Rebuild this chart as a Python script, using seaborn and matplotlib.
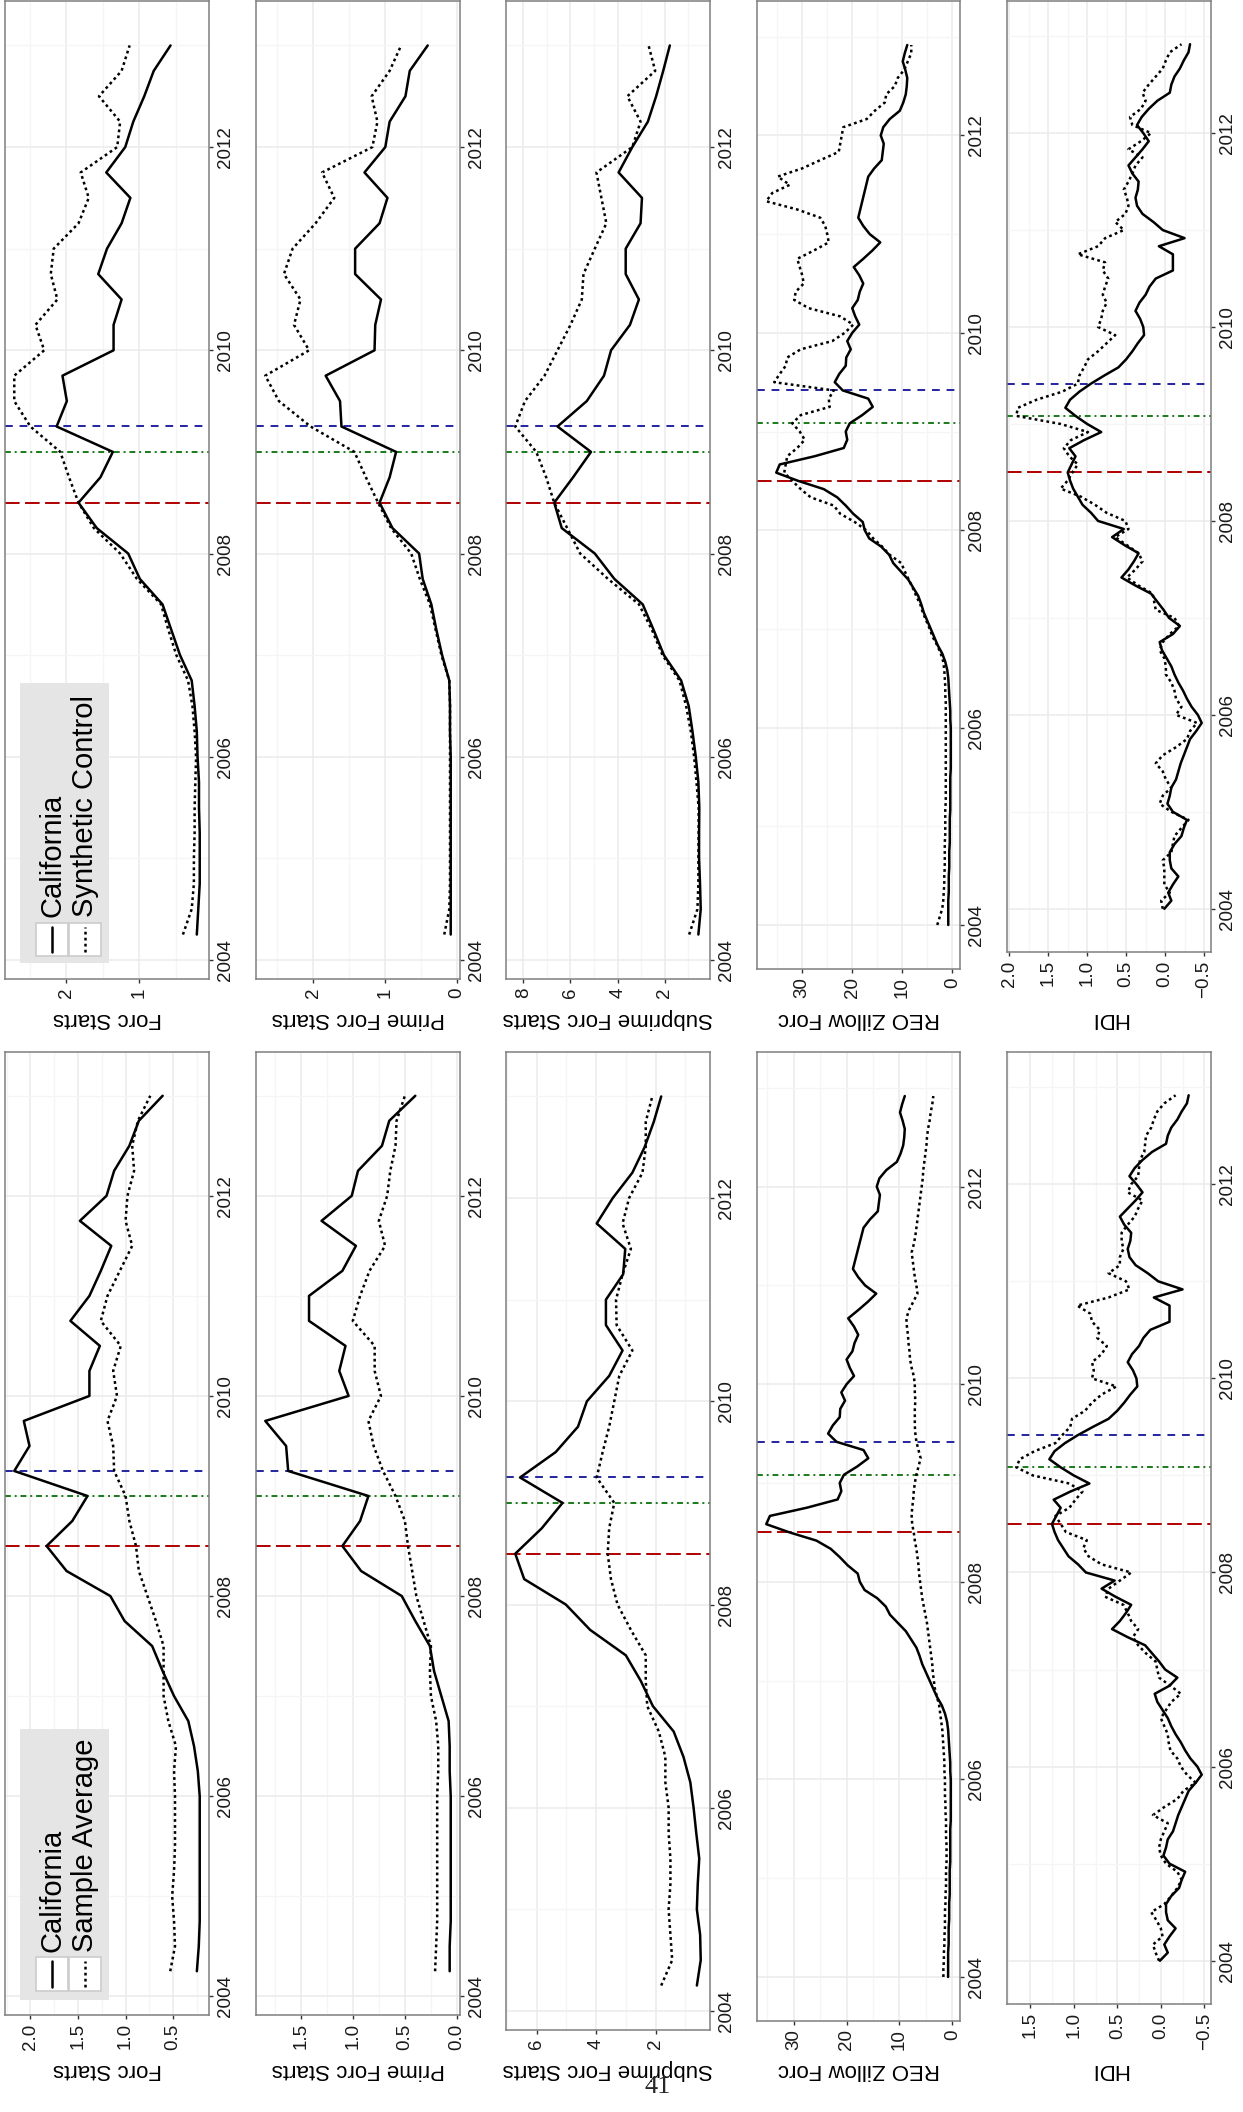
import numpy as np
import pandas as pd
import matplotlib
matplotlib.use("Agg")
import matplotlib.pyplot as plt
import seaborn as sns
from matplotlib.patches import Rectangle
from matplotlib.lines import Line2D
from matplotlib.ticker import AutoMinorLocator

W, H = 1243, 2112

# time axes: quarterly 2004Q1..2012Q4 (plotted at quarter end), monthly Jan 2004..Dec 2012
quarters = 2004 + np.arange(1, 37) / 4
months = 2004 + np.arange(108) / 12
q_events = [2008.5, 2009.0, 2009.25]
m_events = [2008.5, 2009 + 1 / 12, 2009 + 5 / 12]
year_ticks = [2004, 2006, 2008, 2010, 2012]
year_labels = ["2004", "2006", "2008", "2010", "2012"]

# ---- quarterly series ----
ca_forc_top = [0.21, 0.19, 0.17, 0.17, 0.17, 0.18, 0.18, 0.20,
               0.21, 0.24, 0.28, 0.44, 0.56, 0.68, 0.99, 1.15,
               1.58, 1.83, 1.53, 1.36, 2.13, 1.99, 2.05, 1.35,
               1.35, 1.24, 1.56, 1.44, 1.24, 1.12, 1.45, 1.19,
               1.08, 0.93, 0.80, 0.57]
synth_forc = [0.40, 0.28, 0.25, 0.25, 0.24, 0.24, 0.23, 0.22,
              0.24, 0.27, 0.33, 0.49, 0.60, 0.70, 1.03, 1.26,
              1.62, 1.83, 1.96, 2.08, 2.49, 2.71, 2.71, 2.30,
              2.42, 2.12, 2.21, 2.17, 1.83, 1.69, 1.80, 1.30,
              1.26, 1.55, 1.24, 1.13]
ca_forc_bot = [0.25, 0.23, 0.22, 0.22, 0.22, 0.22, 0.22, 0.22,
               0.24, 0.28, 0.34, 0.49, 0.61, 0.72, 1.01, 1.16,
               1.62, 1.83, 1.56, 1.40, 2.17, 2.01, 2.07, 1.38,
               1.38, 1.27, 1.58, 1.38, 1.26, 1.15, 1.48, 1.20,
               1.12, 0.96, 0.86, 0.61]
avg_forc = [0.53, 0.48, 0.49, 0.51, 0.49, 0.48, 0.48, 0.48,
            0.49, 0.47, 0.55, 0.60, 0.60, 0.60, 0.68, 0.77,
            0.86, 0.89, 0.96, 1.00, 1.12, 1.13, 1.19, 1.09,
            1.13, 1.05, 1.26, 1.19, 1.06, 0.93, 1.00, 0.98,
            0.91, 0.93, 0.87, 0.74]

ca_prime_top = [0.09, 0.09, 0.09, 0.09, 0.09, 0.09, 0.09, 0.09,
                0.10, 0.10, 0.11, 0.21, 0.29, 0.36, 0.48, 0.53,
                0.90, 1.08, 0.94, 0.85, 1.61, 1.63, 1.83, 1.15,
                1.14, 1.06, 1.42, 1.42, 1.08, 0.97, 1.29, 1.00,
                0.94, 0.72, 0.66, 0.41]
synth_prime = [0.18, 0.11, 0.10, 0.10, 0.10, 0.10, 0.10, 0.10,
               0.10, 0.10, 0.11, 0.22, 0.30, 0.38, 0.52, 0.64,
               0.92, 1.10, 1.27, 1.43, 2.04, 2.48, 2.67, 2.06,
               2.27, 2.18, 2.41, 2.29, 1.97, 1.71, 1.88, 1.18,
               1.11, 1.19, 0.94, 0.78]
ca_prime_bot = [0.07, 0.07, 0.06, 0.06, 0.06, 0.06, 0.06, 0.06,
                0.07, 0.07, 0.08, 0.15, 0.22, 0.26, 0.40, 0.53,
                0.92, 1.10, 0.93, 0.85, 1.62, 1.64, 1.84, 1.04,
                1.13, 1.07, 1.42, 1.42, 1.10, 0.97, 1.30, 1.01,
                0.95, 0.72, 0.65, 0.40]
avg_prime = [0.21, 0.20, 0.19, 0.19, 0.19, 0.19, 0.19, 0.19,
             0.18, 0.18, 0.20, 0.25, 0.26, 0.25, 0.32, 0.39,
             0.43, 0.47, 0.50, 0.59, 0.71, 0.80, 0.85, 0.73,
             0.79, 0.79, 1.00, 0.93, 0.84, 0.69, 0.75, 0.67,
             0.64, 0.59, 0.58, 0.50]

ca_sub_top = [0.58, 0.48, 0.51, 0.55, 0.55, 0.54, 0.58, 0.69,
              0.83, 0.99, 1.31, 2.04, 2.48, 2.94, 4.14, 4.97,
              6.37, 6.69, 5.89, 5.13, 6.55, 5.31, 4.58, 4.28,
              3.48, 3.10, 3.66, 3.66, 3.03, 2.97, 3.96, 3.38,
              2.72, 2.37, 2.07, 1.79]
synth_sub = [0.97, 0.62, 0.58, 0.58, 0.57, 0.57, 0.66, 0.76,
             0.90, 1.10, 1.38, 2.10, 2.55, 3.10, 4.41, 5.59,
             6.14, 6.69, 7.03, 7.45, 8.34, 7.93, 7.10, 6.55,
             6.00, 5.52, 5.45, 4.97, 4.48, 4.69, 4.90, 3.38,
             3.03, 3.59, 2.41, 2.69]
ca_sub_bot = [0.61, 0.48, 0.50, 0.61, 0.58, 0.53, 0.63, 0.72,
              0.83, 1.06, 1.39, 2.09, 2.50, 3.00, 4.20, 5.02,
              6.42, 6.72, 5.83, 5.13, 6.56, 5.36, 4.61, 4.31,
              3.56, 3.11, 3.67, 3.67, 3.09, 3.02, 3.98, 3.44,
              2.78, 2.37, 2.06, 1.81]
avg_sub = [1.81, 1.44, 1.50, 1.56, 1.50, 1.50, 1.56, 1.56,
           1.67, 1.67, 1.89, 2.28, 2.33, 2.33, 2.83, 3.28,
           3.50, 3.61, 3.56, 3.39, 3.98, 3.78, 3.56, 3.39,
           3.22, 2.78, 3.31, 3.33, 3.11, 2.83, 3.11, 2.89,
           2.44, 2.33, 2.33, 2.11]

# ---- monthly series ----
ca_reo = [0.8, 0.8, 0.8, 0.8, 0.7, 0.7, 0.7, 0.6, 0.6, 0.6, 0.5, 0.5,
          0.5, 0.5, 0.4, 0.4, 0.4, 0.4, 0.4, 0.3, 0.3, 0.3, 0.3, 0.3,
          0.3, 0.4, 0.4, 0.5, 0.6, 0.7, 0.8, 1.0, 1.4, 2.0, 2.9, 3.6,
          4.3, 5.0, 5.7, 6.2, 6.8, 7.8, 8.8, 10.3, 11.8, 12.6, 14.2, 16.6,
          17.5, 17.9, 19.8, 21.3, 23.0, 25.7, 30.8, 35.2, 34.5, 27.5, 21.7, 21.0,
          21.3, 20.5, 18.0, 15.9, 16.8, 21.9, 23.5, 22.6, 21.3, 21.2, 20.3, 21.0,
          20.0, 18.6, 19.4, 20.0, 18.9, 18.5, 17.8, 18.6, 19.7, 17.8, 16.0, 14.4,
          16.5, 17.8, 18.8, 18.4, 18.0, 17.6, 17.2, 16.8, 15.6, 14.1, 13.9, 13.7,
          14.3, 13.8, 12.5, 10.5, 9.8, 9.3, 9.1, 9.0, 9.4, 9.9, 9.5, 9.0]
synth_reo = [3.0, 2.5, 2.0, 1.8, 1.7, 1.6, 1.6, 1.5, 1.5, 1.5, 1.5, 1.4,
             1.4, 1.4, 1.4, 1.3, 1.3, 1.3, 1.3, 1.3, 1.3, 1.3, 1.3, 1.3,
             1.3, 1.3, 1.3, 1.3, 1.4, 1.4, 1.5, 1.6, 1.8, 2.3, 3.0, 3.9,
             4.5, 5.2, 5.9, 6.4, 7.2, 7.9, 8.7, 9.5, 10.2, 12.5, 14.0, 15.8,
             17.2, 19.5, 22.4, 23.7, 28.3, 30.3, 32.0, 33.6, 33.3, 33.0, 31.0, 29.5,
             30.5, 32.0, 30.3, 24.5, 24.7, 23.7, 35.6, 34.5, 33.3, 33.0, 30.3, 24.0,
             21.5, 19.8, 22.4, 28.7, 31.6, 31.3, 29.7, 30.0, 30.5, 31.0, 27.7, 24.7,
             25.0, 25.4, 26.4, 31.0, 37.2, 36.0, 32.5, 34.9, 30.0, 26.4, 22.7, 22.4,
             22.1, 21.8, 17.1, 15.5, 13.5, 13.2, 11.5, 10.9, 9.6, 8.9, 8.2, 8.2]
avg_reo = [1.7, 1.7, 1.6, 1.6, 1.5, 1.5, 1.4, 1.4, 1.4, 1.3, 1.3, 1.2,
           1.2, 1.2, 1.1, 1.1, 1.1, 1.2, 1.2, 1.2, 1.3, 1.3, 1.4, 1.4,
           1.4, 1.5, 1.5, 1.6, 1.7, 1.8, 1.9, 2.1, 2.3, 2.5, 2.9, 3.3,
           3.5, 3.7, 3.8, 4.0, 4.2, 4.4, 4.6, 4.8, 5.1, 5.4, 5.7, 5.9,
           6.1, 6.3, 6.4, 6.6, 6.8, 7.1, 7.3, 7.6, 7.7, 7.6, 7.4, 7.3,
           7.1, 6.8, 6.4, 6.0, 6.4, 6.8, 7.0, 7.1, 7.1, 7.1, 7.0, 7.1,
           7.1, 7.3, 7.7, 8.0, 8.1, 8.3, 8.4, 8.6, 8.7, 8.2, 7.4, 6.6,
           6.8, 7.1, 7.3, 7.5, 7.7, 7.3, 7.0, 6.8, 6.6, 6.4, 6.2, 6.0,
           5.8, 5.6, 5.5, 5.3, 5.1, 4.9, 4.8, 4.6, 4.3, 4.1, 3.8, 3.6]

ca_hdi = [0.01, -0.08, -0.04, -0.10, -0.17, -0.08, -0.06, -0.06, -0.12, -0.21, -0.24, -0.28,
          -0.10, -0.03, -0.06, -0.08, -0.14, -0.17, -0.20, -0.24, -0.28, -0.32, -0.40, -0.47,
          -0.42, -0.34, -0.28, -0.23, -0.17, -0.12, -0.08, -0.02, 0.04, 0.07, -0.10, -0.19,
          -0.05, 0.02, 0.10, 0.18, 0.38, 0.56, 0.47, 0.40, 0.34, 0.52, 0.68, 0.53,
          0.86, 0.95, 1.06, 1.12, 1.18, 1.22, 1.25, 1.20, 1.15, 1.23, 1.04, 0.82,
          1.00, 1.15, 1.28, 1.22, 1.10, 0.95, 0.78, 0.60, 0.50, 0.42, 0.35, 0.27,
          0.28, 0.32, 0.38, 0.33, 0.25, 0.20, 0.12, -0.10, -0.10, -0.10, 0.08, -0.25,
          0.03, 0.15, 0.29, 0.36, 0.38, 0.35, 0.34, 0.42, 0.47, 0.38, 0.29, 0.21,
          0.28, 0.36, 0.30, 0.21, 0.10, -0.06, -0.08, -0.12, -0.19, -0.24, -0.30, -0.32]
synth_hdi = [0.03, 0.05, -0.06, 0.01, 0.01, 0.01, 0.03, -0.08, -0.10, -0.12, -0.21, -0.30,
             -0.08, 0.07, 0.03, -0.08, -0.01, 0.03, 0.12, 0.03, -0.14, -0.28, -0.32, -0.41,
             -0.14, -0.21, -0.14, -0.12, -0.08, -0.01, -0.01, 0.01, 0.07, 0.03, -0.06, -0.18,
             -0.12, 0.12, 0.14, 0.16, 0.34, 0.49, 0.38, 0.29, 0.34, 0.49, 0.64, 0.47,
             0.51, 0.75, 0.90, 1.08, 1.34, 1.25, 1.19, 1.12, 1.23, 1.30, 1.21, 0.99,
             1.34, 1.91, 1.89, 1.65, 1.32, 1.12, 1.10, 1.04, 0.99, 0.86, 0.75, 0.64,
             0.86, 0.82, 0.80, 0.75, 0.80, 0.77, 0.73, 0.80, 0.77, 1.12, 0.86, 0.77,
             0.53, 0.64, 0.51, 0.47, 0.49, 0.53, 0.47, 0.42, 0.38, 0.29, 0.47, 0.31,
             0.18, 0.42, 0.45, 0.31, 0.25, 0.29, 0.21, 0.12, 0.03, -0.01, -0.06, -0.21]
avg_hdi = [0.02, 0.06, 0.09, -0.02, 0.00, 0.05, 0.11, -0.04, -0.12, -0.19, -0.24, -0.19,
           -0.06, 0.00, 0.02, 0.00, -0.04, -0.08, 0.09, -0.04, -0.19, -0.26, -0.40, -0.30,
           -0.23, -0.19, -0.11, -0.09, -0.08, -0.04, 0.00, -0.06, -0.12, -0.23, -0.11, 0.02,
           0.04, 0.06, 0.17, 0.26, 0.32, 0.26, 0.34, 0.38, 0.43, 0.64, 0.60, 0.47,
           0.34, 0.68, 0.83, 0.89, 0.85, 1.09, 1.15, 1.21, 1.05, 0.98, 0.90, 1.05,
           1.47, 1.66, 1.62, 1.45, 1.21, 1.13, 1.04, 1.02, 0.87, 0.79, 0.68, 0.51,
           0.79, 0.77, 0.79, 0.68, 0.62, 0.73, 0.70, 0.79, 0.81, 0.96, 0.60, 0.36,
           0.40, 0.60, 0.47, 0.47, 0.43, 0.45, 0.45, 0.38, 0.30, 0.26, 0.21, 0.38,
           0.34, 0.26, 0.25, 0.24, 0.19, 0.18, 0.17, 0.11, 0.08, 0.04, -0.04, -0.17]

event_colors = ["#B00000", "#1A7A1A", "#25259E"]
event_styles = [(0, (7.5, 2.8)), (0, (3, 2, 1, 2)), (0, (4, 3.5))]
other_dash = (1.1, 1.3)

sns.set_theme(style="white")
plt.rcParams["font.family"] = ["Liberation Sans", "DejaVu Sans"]
plt.rcParams["axes.unicode_minus"] = True

fig = plt.figure(figsize=(W / 100, H / 100), dpi=100)


def draw_panel(box, dates, ca, other, other_name, events, ticks, ticklabels, name, label_top):
    x0, x1, y0, y1 = box
    ax = fig.add_axes([x0 / W, 1 - y1 / H, (x1 - x0) / W, (y1 - y0) / H])
    df = pd.concat([
        pd.DataFrame({"date": dates, "value": ca, "series": "California"}),
        pd.DataFrame({"date": dates, "value": other, "series": other_name}),
    ])
    for d, c, ls in zip(events, event_colors, event_styles):
        ax.axhline(d, color=c, ls=ls, lw=1.4, zorder=1.5)
    sns.lineplot(data=df, x="value", y="date", style="series",
                 style_order=["California", other_name],
                 dashes={"California": "", other_name: other_dash},
                 color="black", linewidth=1.8, estimator=None, orient="y",
                 legend=False, ax=ax, zorder=2)
    ax.invert_xaxis()
    ax.set_xticks(ticks, ticklabels, rotation=90)
    ax.set_yticks(year_ticks, year_labels, rotation=90, va="center")
    ax.yaxis.tick_right()
    ax.xaxis.set_minor_locator(AutoMinorLocator(2))
    ax.yaxis.set_minor_locator(AutoMinorLocator(2))
    ax.tick_params(which="minor", length=0)
    ax.tick_params(which="major", length=3, width=1.0, color="#333333",
                   labelsize=13.5, labelcolor="#1a1a1a", pad=3)
    ax.tick_params(axis="x", bottom=True)
    ax.grid(True, which="major", color="#EBEBEB", lw=1.1)
    ax.grid(True, which="minor", color="#F5F5F5", lw=0.9)
    ax.set_axisbelow(True)
    for sp in ax.spines.values():
        sp.set_color("#7F7F7F")
        sp.set_linewidth(1.1)
    ax.set_ylabel("")
    ax.set_xlabel(name, rotation=180, fontsize=16, color="black")
    ax.xaxis.set_label_coords(0.5, (y1 - label_top) / (y1 - y0))
    return ax


def draw_legend(box, key_box, names, text_bottom):
    x0, x1, y0, y1 = box
    fig.add_artist(Rectangle((x0 / W, 1 - y1 / H), (x1 - x0) / W, (y1 - y0) / H,
                             transform=fig.transFigure, facecolor="#E5E5E5",
                             edgecolor="none"))
    ky0, ky1 = key_box
    for (kx0, kx1), name, ls in zip([(36, 68), (69, 101)], names,
                                    ["-", (0, other_dash)]):
        fig.add_artist(Rectangle((kx0 / W, 1 - ky1 / H), (kx1 - kx0) / W, (ky1 - ky0) / H,
                                 transform=fig.transFigure, facecolor="white",
                                 edgecolor="#CCCCCC", lw=1.2))
        xc = (kx0 + kx1) / 2
        fig.add_artist(Line2D([xc / W, xc / W], [1 - (ky1 - 4) / H, 1 - (ky0 + 4) / H],
                              transform=fig.transFigure, color="black", lw=1.8, ls=ls))
        fig.text(xc / W, 1 - text_bottom / H, name, rotation=90, ha="center",
                 va="bottom", fontsize=21, color="black")


top = [
    ((5, 209, 1, 979), quarters, ca_forc_top, synth_forc, q_events,
     [1, 2], ["1", "2"], "Forc Starts"),
    ((256, 460, 1, 979), quarters, ca_prime_top, synth_prime, q_events,
     [0, 1, 2], ["0", "1", "2"], "Prime Forc Starts"),
    ((506, 710, 1, 979), quarters, ca_sub_top, synth_sub, q_events,
     [2, 4, 6, 8], ["2", "4", "6", "8"], "Subprime Forc Starts"),
    ((757, 960, 1, 969), months, ca_reo, synth_reo, m_events,
     [0, 10, 20, 30], ["0", "10", "20", "30"], "REO Zillow Forc"),
    ((1007, 1211, 1, 952), months, ca_hdi, synth_hdi, m_events,
     [-0.5, 0, 0.5, 1, 1.5, 2], ["\u22120.5", "0.0", "0.5", "1.0", "1.5", "2.0"], "HDI"),
]
bottom = [
    ((5, 209, 1052, 2015), quarters, ca_forc_bot, avg_forc, q_events,
     [0.5, 1, 1.5, 2], ["0.5", "1.0", "1.5", "2.0"], "Forc Starts"),
    ((256, 460, 1052, 2015), quarters, ca_prime_bot, avg_prime, q_events,
     [0, 0.5, 1, 1.5], ["0.0", "0.5", "1.0", "1.5"], "Prime Forc Starts"),
    ((506, 710, 1052, 2030), quarters, ca_sub_bot, avg_sub, q_events,
     [2, 4, 6], ["2", "4", "6"], "Subprime Forc Starts"),
    ((757, 960, 1052, 2021), months, ca_reo, avg_reo, m_events,
     [0, 10, 20, 30], ["0", "10", "20", "30"], "REO Zillow Forc"),
    ((1007, 1211, 1052, 2004), months, ca_hdi, avg_hdi, m_events,
     [-0.5, 0, 0.5, 1, 1.5], ["\u22120.5", "0.0", "0.5", "1.0", "1.5"], "HDI"),
]

for box, dates, ca, other, ev, ticks, labels, name in top:
    draw_panel(box, dates, ca, other, "Synthetic Control", ev, ticks, labels, name, 1008)
for box, dates, ca, other, ev, ticks, labels, name in bottom:
    draw_panel(box, dates, ca, other, "Sample Average", ev, ticks, labels, name, 2059)

draw_legend((20, 109, 683, 963), (923, 956), ["California", "Synthetic Control"], 917)
draw_legend((20, 109, 1729, 2000), (1957, 1991), ["California", "Sample Average"], 1952)

fig.text(658 / W, 1 - 2087 / H, "41", ha="center", va="center", fontsize=19,
         family=["Liberation Serif", "DejaVu Serif"])

fig.savefig("out.png", dpi=100)
